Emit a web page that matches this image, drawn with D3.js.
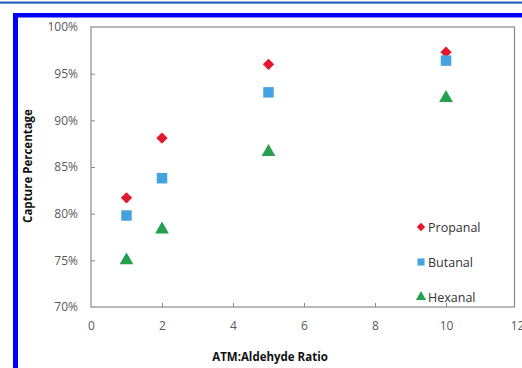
<!DOCTYPE html>
<html>
<head>
<meta charset="utf-8">
<script src="https://d3js.org/d3.v7.min.js"></script>
<style>
  body { margin: 0; background: #fff; }
  svg { display: block; }
</style>
</head>
<body>
<svg width="522" height="368"></svg>
<script>
const ratios = [1, 2, 5, 10]
const propanal = [81.7, 88.1, 96.0, 97.3]
const butanal = [79.8, 83.8, 93.0, 96.4]
const hexanal = [75.0, 78.3, 86.6, 92.4]
const seriesNames = ["Propanal", "Butanal", "Hexanal"]
const xTicks = [0, 2, 4, 6, 8, 10, 12]
const yTicks = [70, 75, 80, 85, 90, 95, 100]

const series = [
  { name: seriesNames[0], values: propanal, color: "#e3172d", shape: d3.symbolDiamond2 },
  { name: seriesNames[1], values: butanal, color: "#45a2e0", shape: d3.symbolSquare },
  { name: seriesNames[2], values: hexanal, color: "#25a04f", shape: d3.symbolTriangle }
]

const svg = d3.select("svg")
const font = "'Open Sans', 'Liberation Sans', sans-serif"

// frame bits around the figure
svg.append("rect").attr("x", 0).attr("y", 1.5).attr("width", 522).attr("height", 2.2).attr("fill", "#2860b8")
svg.append("rect").attr("x", 13).attr("y", 13).attr("width", 509).attr("height", 4.5).attr("fill", "#0000ff")
svg.append("rect").attr("x", 13).attr("y", 13).attr("width", 5).attr("height", 355).attr("fill", "#0000ff")

const m = { left: 91, right: 516, top: 27, bottom: 307 }
const x = d3.scaleLinear().domain([0, 12]).range([m.left, m.left + 6 * 71])
const y = d3.scaleLinear().domain([70, 100]).range([m.bottom, m.top])

// plot frame
svg.append("rect")
  .attr("x", m.left).attr("y", m.top)
  .attr("width", 514.5 - m.left).attr("height", m.bottom - m.top)
  .attr("fill", "none").attr("stroke", "#8a8a8a").attr("stroke-width", 1.2)

const xAxis = svg.append("g")
  .attr("transform", `translate(0,${m.bottom})`)
  .call(d3.axisBottom(x).tickValues(xTicks).tickSize(-4).tickPadding(14).tickFormat(d3.format("d")))
const yAxis = svg.append("g")
  .attr("transform", `translate(${m.left},0)`)
  .call(d3.axisLeft(y).tickValues(yTicks).tickSize(-4).tickPadding(13).tickFormat(d => d + "%"))

for (const ax of [xAxis, yAxis]) {
  ax.select(".domain").remove()
  ax.selectAll(".tick line").attr("stroke", "#8a8a8a")
  ax.selectAll("text").attr("fill", "#595959").attr("font-family", font).attr("font-size", 12)
}
xAxis.selectAll(".tick").filter(d => d === 0 || d === 12).select("line").remove()
yAxis.selectAll(".tick").filter(d => d === 70 || d === 100).select("line").remove()

// points
series.forEach(s => {
  svg.append("g")
    .selectAll("path")
    .data(ratios.map((r, i) => [r, s.values[i]]))
    .join("path")
      .attr("transform", d => `translate(${x(d[0])},${y(d[1])})`)
      .attr("d", d3.symbol().type(s.shape).size(s.shape === d3.symbolSquare ? 110 : 82))
      .attr("fill", s.color)
})

// legend
const legend = svg.append("g").attr("transform", "translate(421,227)")
series.forEach((s, i) => {
  const g = legend.append("g").attr("transform", `translate(0,${i * 35})`)
  g.append("path")
    .attr("d", d3.symbol().type(s.shape).size(s.shape === d3.symbolSquare ? 50 : 45))
    .attr("fill", s.color)
  g.append("text")
    .attr("x", 7).attr("y", 5)
    .attr("font-family", font).attr("font-size", 12.5).attr("fill", "#333")
    .text(s.name)
})

// axis titles
svg.append("text")
  .attr("x", 270).attr("y", 361)
  .attr("text-anchor", "middle")
  .attr("font-family", font).attr("font-size", 11.5).attr("font-weight", "bold").attr("fill", "#111")
  .text("ATM:Aldehyde Ratio")
svg.append("text")
  .attr("transform", "translate(32,166) rotate(-90)")
  .attr("text-anchor", "middle")
  .attr("font-family", font).attr("font-size", 11.5).attr("font-weight", "bold").attr("fill", "#111")
  .text("Capture Percentage")
</script>
</body>
</html>
